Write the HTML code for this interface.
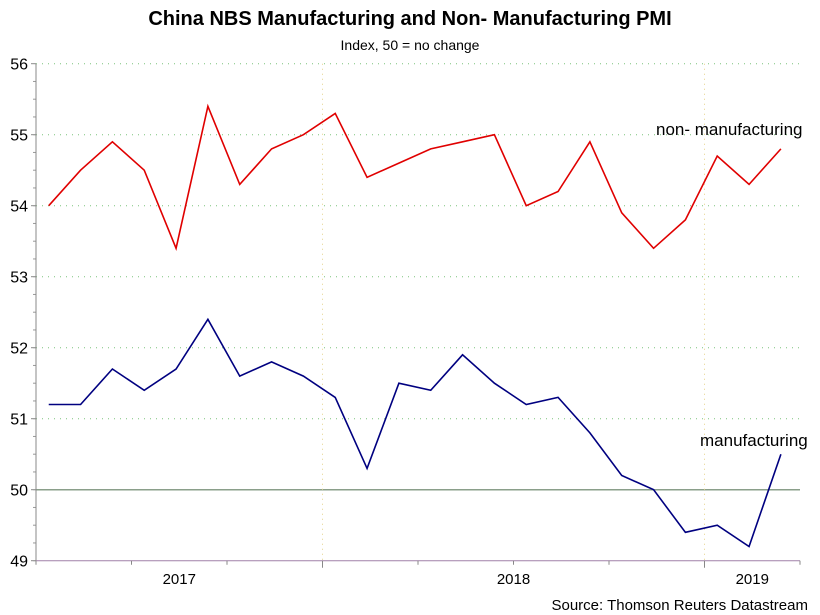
<!DOCTYPE html>
<html><head><meta charset="utf-8"><style>
body{margin:0;background:#fff;}
svg{display:block;font-family:"Liberation Sans",Arial,sans-serif;}
</style></head><body>
<svg id="chart" width="820" height="615" viewBox="0 0 820 615">
<text x="410" y="25" text-anchor="middle" font-size="20" font-weight="bold">China NBS Manufacturing and Non- Manufacturing PMI</text>
<text x="410" y="50" text-anchor="middle" font-size="14">Index, 50 = no change</text>
<g id="grid"></g><g id="axes"></g><g id="series"></g>
<text x="656" y="135" font-size="17">non- manufacturing</text>
<text x="700" y="446" font-size="17">manufacturing</text>
<text x="808" y="610" text-anchor="end" font-size="15">Source: Thomson Reuters Datastream</text>
</svg>
<script>
const yTicks=[49,50,51,52,53,54,55,56];
const yearLabels=["2017","2018","2019"];
const yearStartMonth=[-3,9,21];
const yearEndMonth=[9,21,24];
const nonManufacturing=[54.0,54.5,54.9,54.5,53.4,55.4,54.3,54.8,55.0,55.3,54.4,54.6,54.8,54.9,55.0,54.0,54.2,54.9,53.9,53.4,53.8,54.7,54.3,54.8];
const manufacturing=[51.2,51.2,51.7,51.4,51.7,52.4,51.6,51.8,51.6,51.3,50.3,51.5,51.4,51.9,51.5,51.2,51.3,50.8,50.2,50.0,49.4,49.5,49.2,50.5];
const NS="http://www.w3.org/2000/svg";
const X0=36,X1=800,MW=(X1-X0)/24;
const xm=m=>X0+m*MW;
const xp=i=>X0+(i+0.4)*MW;
const y=v=>560.7-(v-49)*71;
function mk(tag,attrs,parent){const e=document.createElementNS(NS,tag);for(const k in attrs)e.setAttribute(k,attrs[k]);document.getElementById(parent).appendChild(e);return e;}
yTicks.forEach(v=>{
 if(v>49&&v!==50){const g=mk('line',{x1:X0,x2:X1,y1:y(v),y2:y(v),stroke:'#7cc47c','stroke-dasharray':'1 5'},'grid');
 
 }
 const t=mk('text',{x:X0-8,y:y(v)+6,'text-anchor':'end','font-size':'16'},'axes');t.textContent=v;
 
 
 mk('line',{x1:X0-5,x2:X0,y1:y(v),y2:y(v),stroke:'#888'},'axes');
});
for(let v=49;v<56;v+=0.25){mk('line',{x1:X0-3,x2:X0,y1:y(v),y2:y(v),stroke:'#999'},'axes');}
const l50=mk('line',{x1:X0,x2:X1,y1:y(50),y2:y(50),stroke:'#8a9f8a','stroke-width':1.5},'grid');


[9,21].forEach(m=>{const v=mk('line',{x1:xm(m),x2:xm(m),y1:y(56),y2:y(49),stroke:'#e6d28a','stroke-dasharray':'1 4'},'grid');
 
 });
mk('line',{x1:X0,x2:X0,y1:y(56),y2:y(49),stroke:'#888'},'axes');
const xa=mk('line',{x1:X0,x2:X1,y1:y(49),y2:y(49),stroke:'#a080a8'},'axes');


for(let m=0;m<=24;m+=3){const maj=(m===9||m===21);mk('line',{x1:xm(m),x2:xm(m),y1:y(49),y2:y(49)+(maj?7:4),stroke:'#888'},'axes');}
yearLabels.forEach((lab,i)=>{const cx=(xm(Math.max(0,yearStartMonth[i]))+xm(yearEndMonth[i]))/2;
 const t=mk('text',{x:cx,y:584,'text-anchor':'middle','font-size':'15'},'axes');t.textContent=lab;
 
 });
function line(data,color,name){const p=mk('polyline',{points:data.map((v,i)=>xp(i)+','+y(v)).join(' '),fill:'none',stroke:color,'stroke-width':1.6},'series');
 
 }
line(nonManufacturing,'#e00000','non-manufacturing-line');
line(manufacturing,'#000080','manufacturing-line');
</script>
</body></html>
